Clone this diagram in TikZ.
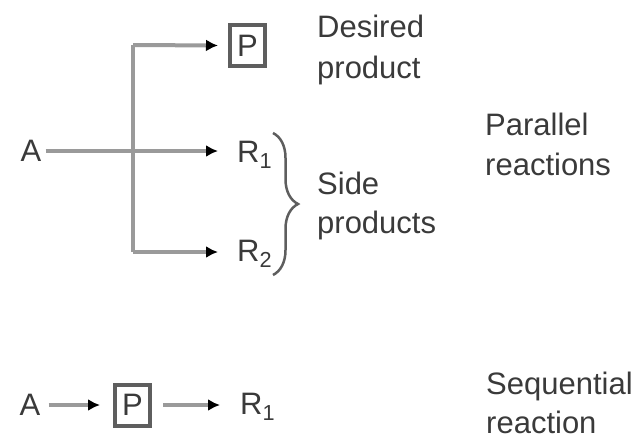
\documentclass[tikz,border=0pt]{standalone}
\usepackage{fontspec}
\setmainfont{Liberation Sans}
\usetikzlibrary{arrows.meta,decorations.pathreplacing}
\definecolor{txt}{HTML}{3A3A3A}
\definecolor{ln}{HTML}{9A9A9A}
\definecolor{bx}{HTML}{5E5E5E}
\tikzset{
  lbl/.style={anchor=base west,inner sep=0pt,text=txt,font=\fontsize{31}{36}\selectfont},
  sym/.style={inner sep=0pt,text=txt,font=\fontsize{31}{36}\selectfont},
  pbox/.style={draw=bx,line width=4pt,minimum width=35pt,minimum height=41pt,inner sep=0pt,text=txt,font=\fontsize{31}{36}\selectfont},
  conn/.style={draw=ln,line width=4pt},
  arr/.style={conn,-{Latex[length=12pt,width=12pt,color=black]}},
  brc/.style={draw=bx,line width=2.5pt,decorate,decoration={brace,amplitude=25pt}}
}
\begin{document}
\begin{tikzpicture}[x=1pt,y=-1pt]
\useasboundingbox (0,0) rectangle (637,442);
% parallel reactions
\node[sym] (A) at (31,151) {A};
\node[pbox] (P) at (247.5,45.5) {P};
\node[sym,anchor=base west] (R1) at (237,162) {R\textsubscript{1}};
\node[sym,anchor=base west] (R2) at (237,261) {R\textsubscript{2}};
\coordinate (jt) at (133,45);
\coordinate (jb) at (133,252);
\draw[conn] (jt) -- (jb);
\draw[arr,shorten <=4pt] (A.east) -- (218,151);
\draw[arr] (jt) -- (P.west -| 218,0);
\draw[arr] (jb) -- (218,252);
\draw[brc] (273,133) -- (273,275) coordinate (bend);
\node[lbl] (d1) at (317,37) {Desired};
\node[lbl] (d2) at (317,78) {product};
\node[lbl] (s1) at (317,194) {Side};
\node[lbl] (s2) at (317,233) {products};
\node[lbl] (p1) at (485,135) {Parallel};
\node[lbl] (p2) at (485,175) {reactions};
% sequential reaction
\node[sym] (A2) at (30,405) {A};
\node[pbox] (P2) at (132.5,405) {P};
\node[sym,anchor=base west] (R3) at (240,414) {R\textsubscript{1}};
\draw[arr,shorten <=8pt] (A2.east) -- (A2.east -| 100,0);
\draw[arr,shorten <=11pt] (P2.east) -- (P2.east -| 220,0);
\node[lbl] (q1) at (486,394) {Sequential};
\node[lbl] (q2) at (486,433) {reaction};
\end{tikzpicture}
\end{document}
